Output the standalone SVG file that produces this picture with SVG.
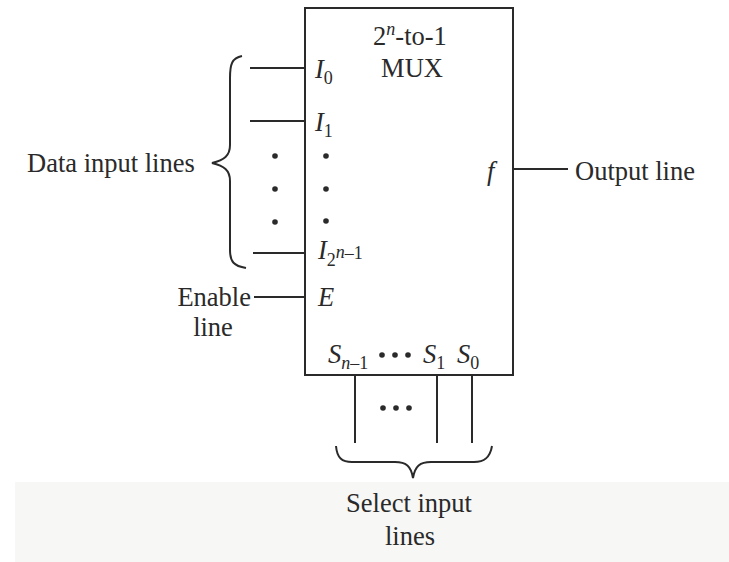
<svg xmlns="http://www.w3.org/2000/svg" width="729" height="562" viewBox="0 0 729 562">
<style>
text{font-family:"Liberation Serif","Times New Roman",serif;fill:#2a2a2a;font-size:26.5px}
.it{font-style:italic}
.sub{font-size:18px}
.ln{stroke:#2a2a2a;stroke-width:2;fill:none}
.dot{fill:#2a2a2a}
</style>
<rect width="729" height="562" fill="#ffffff"/>
<rect x="15" y="482" width="714" height="80" fill="#f7f7f5"/>
<g id="mux">
<rect x="305" y="8" width="208" height="367" class="ln"/>
<text x="410" y="45" text-anchor="middle">2<tspan class="it sub" dy="-10">n</tspan><tspan dy="10">-to-1</tspan></text>
<text x="412" y="77" text-anchor="middle">MUX</text>
<text x="315" y="78" class="it">I<tspan class="sub" font-style="normal" dy="6">0</tspan></text>
<text x="315" y="131" class="it">I<tspan class="sub" font-style="normal" dy="6">1</tspan></text>
<circle cx="326" cy="156" r="2.8" class="dot"/>
<circle cx="326" cy="189" r="2.8" class="dot"/>
<circle cx="326" cy="221" r="2.8" class="dot"/>
<text x="318" y="259" class="it">I<tspan class="sub" font-style="normal" dy="7">2</tspan><tspan class="sub" dy="-8">n</tspan><tspan class="sub" font-style="normal" dy="1">–1</tspan></text>
<text x="318" y="306" class="it">E</text>
<text x="487" y="180" class="it">f</text>
<text x="328" y="363" class="it">S<tspan class="sub" dy="6">n</tspan><tspan class="sub" font-style="normal">–1</tspan></text>
<circle cx="382" cy="355" r="2.8" class="dot"/>
<circle cx="395" cy="355" r="2.8" class="dot"/>
<circle cx="408" cy="355" r="2.8" class="dot"/>
<text x="423" y="363" class="it">S<tspan class="sub" font-style="normal" dy="6">1</tspan></text>
<text x="457" y="363" class="it">S<tspan class="sub" font-style="normal" dy="6">0</tspan></text>
</g>
<g id="data-inputs">
<text x="27" y="172">Data input lines</text>
<path class="ln" d="M242 56 C232 58 230 64 230 78 L230 145 C230 156 224 160 212 163 C224 166 230 170 230 181 L230 250 C230 262 234 266 246 268"/>
<circle cx="275" cy="156" r="2.8" class="dot"/>
<circle cx="275" cy="189" r="2.8" class="dot"/>
<circle cx="275" cy="222" r="2.8" class="dot"/>
</g>
<g id="enable">
<text x="251" y="306" text-anchor="end">Enable</text>
<text x="213" y="336" text-anchor="middle">line</text>
</g>
<g id="output">
<text x="575" y="180">Output line</text>
</g>
<g id="select">
<circle cx="383" cy="408" r="2.8" class="dot"/>
<circle cx="396" cy="408" r="2.8" class="dot"/>
<circle cx="409" cy="408" r="2.8" class="dot"/>
<path class="ln" d="M336 446 C337 458 342 462 352 462 L395 462 C406 462 411 466 413 478 C415 466 420 462 431 462 L474 462 C484 462 490 458 492 446"/>
<text x="409" y="512" text-anchor="middle">Select input</text>
<text x="410" y="545" text-anchor="middle">lines</text>
</g>
<g id="connectors">
<line class="ln" x1="250" y1="68" x2="305" y2="68"/>
<line class="ln" x1="250" y1="121" x2="305" y2="121"/>
<line class="ln" x1="253" y1="253" x2="305" y2="253"/>
<line class="ln" x1="254" y1="297" x2="305" y2="297"/>
<line class="ln" x1="513" y1="169" x2="568" y2="169"/>
<line class="ln" x1="355" y1="375" x2="355" y2="443"/>
<line class="ln" x1="437" y1="375" x2="437" y2="443"/>
<line class="ln" x1="472" y1="375" x2="472" y2="443"/>
</g>
</svg>
